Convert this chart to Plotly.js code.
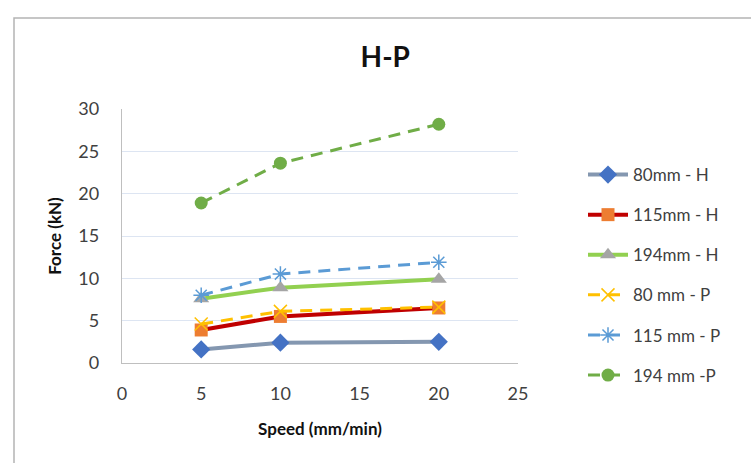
<!DOCTYPE html>
<html>
<head>
<meta charset="utf-8">
<script src="https://cdn.plot.ly/plotly-3.0.1.min.js"></script>
<style>
html,body{margin:0;padding:0;background:#fff;}
#chart{width:751px;height:463px;}
</style>
</head>
<body>
<div id="chart"></div>
<script>
const speeds = [5, 10, 20];
const seriesNames = ["80mm - H", "115mm - H", "194mm - H", "80 mm - P", "115 mm - P", "194 mm -P"];
const f80H = [1.6, 2.4, 2.5];
const f115H = [3.9, 5.5, 6.5];
const f194H = [7.6, 8.9, 9.9];
const f80P = [4.6, 6.1, 6.6];
const f115P = [8.0, 10.5, 11.9];
const f194P = [18.9, 23.6, 28.2];
const xTicks = [0, 5, 10, 15, 20, 25];
const yTicks = [0, 5, 10, 15, 20, 25, 30];

const values = [f80H, f115H, f194H, f80P, f115P, f194P];
const styles = [
  {lc: "#8497b0", lw: 4, dash: "solid", sym: "diamond", mc: "#4472c4", ms: 14},
  {lc: "#c00000", lw: 4, dash: "solid", sym: "square", mc: "#ed7d31", ms: 13},
  {lc: "#92d050", lw: 4, dash: "solid", sym: "triangle-up", mc: "#a5a5a5", ms: 14},
  {lc: "#ffc000", lw: 3, dash: "12px,8px", sym: "x-thin-open", mc: "#ffc000", ms: 13},
  {lc: "#5b9bd5", lw: 3, dash: "12px,8px", sym: "asterisk-open", mc: "#5b9bd5", ms: 13},
  {lc: "#70ad47", lw: 3, dash: "12px,8px", sym: "circle", mc: "#70ad47", ms: 13}
];

const traces = values.map((v, i) => {
  const s = styles[i];
  const open = s.sym.indexOf("open") >= 0;
  return {
    x: speeds, y: v, type: "scatter", mode: "lines+markers",
    name: seriesNames[i], legendgroup: "g" + i,
    line: {color: s.lc, width: s.lw, dash: s.dash},
    marker: {symbol: s.sym, size: s.ms, color: s.mc,
             line: {color: s.mc, width: open ? 1.5 : 0}}
  };
});

const ml = 122, mt = 109, pw = 396, ph = 254;
const layout = {
  width: 751, height: 463,
  margin: {l: ml, r: 751 - ml - pw, t: mt, b: 463 - mt - ph},
  paper_bgcolor: "#fff", plot_bgcolor: "#fff",
  font: {family: "Lato, 'Open Sans', sans-serif", size: 17, color: "#404040"},
  title: {text: "<b>H-P</b>", font: {size: 28, color: "#111"}, x: 0.513, xanchor: "center", y: 0.877, yanchor: "middle"},
  xaxis: {
    range: [0, 25], tickvals: xTicks, showgrid: false, zeroline: false,
    showline: true, linecolor: "#bfbfbf", linewidth: 1.2, ticks: "",
    ticklabelstandoff: 14,
    tickfont: {size: 18, color: "#404040"},
    title: {text: "<b>Speed (mm/min)</b>", font: {size: 17, color: "#111"}, standoff: 20}
  },
  yaxis: {
    range: [0, 30], tickvals: yTicks, showgrid: true, gridcolor: "#dde5f2", gridwidth: 1,
    zeroline: false, showline: true, linecolor: "#bfbfbf", linewidth: 1.2, ticks: "",
    ticklabelstandoff: 18, tickfont: {size: 18, color: "#404040"},
    title: {text: "<b>Force (kN)</b>", font: {size: 17, color: "#111"}, standoff: 12}
  },
  legend: {
    x: (583 - ml) / pw, xanchor: "left", y: (363 - 157) / ph, yanchor: "top",
    font: {size: 17, color: "#404040"}, tracegroupgap: 15, itemwidth: 40,
    bgcolor: "rgba(0,0,0,0)"
  },
  shapes: [{
    type: "rect", xref: "paper", yref: "paper",
    x0: (14 - ml) / pw, x1: (800 - ml) / pw,
    y0: (363 - 520) / ph, y1: (363 - 18) / ph,
    line: {color: "#b4b4b4", width: 1.5}, fillcolor: "rgba(0,0,0,0)", layer: "below"
  }],
  showlegend: true
};

Plotly.newPlot("chart", traces, layout, {displayModeBar: false, staticPlot: true});
</script>
</body>
</html>
